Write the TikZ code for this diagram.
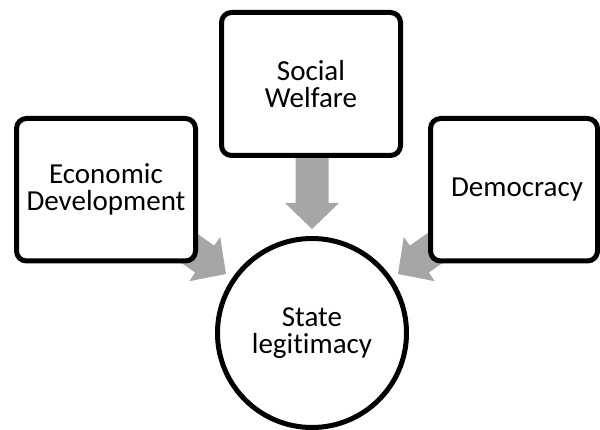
\documentclass[tikz,border=0pt]{standalone}
\usepackage{fontspec}
\setmainfont{Carlito}[Ligatures=NoCommon]
\usetikzlibrary{calc,backgrounds}
\definecolor{arrowgray}{RGB}{166,166,166}
\tikzset{
  box/.style={draw=black, line width=5pt, fill=white, rounded corners=10pt, align=center,
    font=\fontsize{29}{27}\selectfont, inner sep=0pt},
  ring/.style={circle, draw=black, line width=5pt, fill=white, align=center,
    font=\fontsize{29}{27}\selectfont, inner sep=0pt, minimum size=189pt},
  blockarrow/.style={fill=arrowgray, draw=none, to path={
    ($(\tikztostart)!16.5pt!90:(\tikztotarget)$)
    -- ($(\tikztotarget)!26pt!(\tikztostart)!16.5pt!-90:(\tikztostart)$)
    -- ($(\tikztotarget)!26pt!(\tikztostart)!27pt!-90:(\tikztostart)$)
    -- (\tikztotarget)
    -- ($(\tikztotarget)!26pt!(\tikztostart)!27pt!90:(\tikztostart)$)
    -- ($(\tikztotarget)!26pt!(\tikztostart)!16.5pt!90:(\tikztostart)$)
    -- ($(\tikztostart)!16.5pt!-90:(\tikztotarget)$)
    -- cycle}}
}
\begin{document}
\begin{tikzpicture}[x=1pt,y=-1pt]
\useasboundingbox (0,0) rectangle (600,430);
\node[box, minimum width=179pt, minimum height=142.5pt] (ed) at (106,189.75) {Economic\\Development};
\node[box, minimum width=179pt, minimum height=143pt] (sw) at (311,84) {Social\\Welfare};
\node[box, minimum width=167pt, minimum height=142.5pt] (dem) at (514,189.75) {\hspace*{6pt}Democracy};
\node[ring] (sl) at (312,333) {State\\legitimacy};
\begin{scope}[on background layer]
  \coordinate (a1s) at (312,140);
  \coordinate (a1t) at (312,229);
  \coordinate (a2s) at (152.3,222.4);
  \coordinate (a2t) at (226,274);
  \coordinate (a3s) at (471.7,222.4);
  \coordinate (a3t) at (398,274);
  \path[blockarrow] (a1s) to (a1t);
  \path[blockarrow] (a2s) to (a2t);
  \path[blockarrow] (a3s) to (a3t);
\end{scope}
\end{tikzpicture}
\end{document}
